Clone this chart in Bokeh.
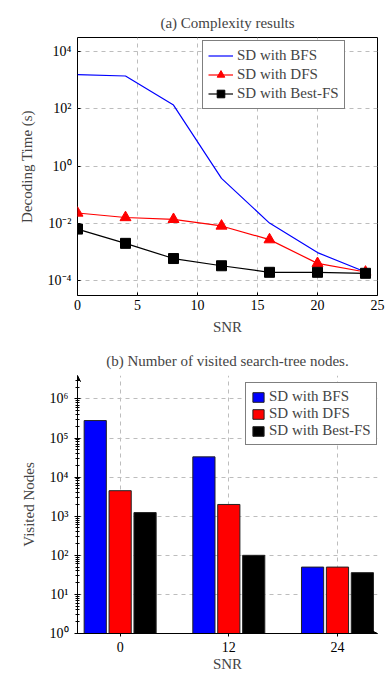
from bokeh.plotting import figure
from bokeh.models import (Range1d, FixedTicker, Legend, LegendItem, Title, Arrow, VeeHead,
                          CustomJSTickFormatter, LogTicker)
from bokeh.layouts import column
from bokeh.embed import file_html
from bokeh.resources import INLINE

# ---------------- data ----------------
snr = [0, 4, 8, 12, 16, 20, 24]
bfs_time = [1550, 1400, 135, 0.37, 0.0102, 9.5e-4, 2.0e-4]
dfs_time = [0.023, 0.016, 0.0138, 0.0081, 0.0027, 4.0e-4, 2.0e-4]
bestfs_time = [0.0063, 0.0020, 5.9e-4, 3.3e-4, 1.95e-4, 1.95e-4, 1.8e-4]

snr_groups = [0, 12, 24]
bfs_nodes = [2.8e5, 3.3e4, 50]
dfs_nodes = [4500, 2000, 50]
bestfs_nodes = [1240, 100, 36]

series_names = ["SD with BFS", "SD with DFS", "SD with Best-FS"]
top_ticks_y = [1e-4, 1e-2, 1, 1e2, 1e4]
top_ticks_x = [0, 5, 10, 15, 20, 25]

FONT = "Liberation Serif"
GRID = "#bdbdbd"
TICK_FS = "14px"
TEXT_FS = "15px"

sup_fmt = CustomJSTickFormatter(code="""
const e = Math.round(Math.log10(tick));
const sup = {'-':'\u207b','0':'\u2070','1':'\u00b9','2':'\u00b2','3':'\u00b3','4':'\u2074',
             '5':'\u2075','6':'\u2076','7':'\u2077','8':'\u2078','9':'\u2079'};
return '10' + String(e).split('').map(c => sup[c]).join('');
""")

# ---------------- top chart ----------------
p1 = figure(width=385, height=340, y_axis_type="log", output_backend="svg",
            toolbar_location=None, x_range=Range1d(0, 25),
            y_range=Range1d(10 ** -4.52, 10 ** 4.49),
            min_border_left=77, min_border_right=8, min_border_top=37, min_border_bottom=45)
p1.title = Title(text="(a) Complexity results", align="center", text_font=FONT,
                 text_font_size=TEXT_FS, text_font_style="normal", standoff=14)
p1.outline_line_color = "black"
p1.outline_line_width = 1
p1.outline_line_alpha = 1

r_bfs = p1.line(snr, bfs_time, line_color="#0000ff", line_width=1.2)
r_dfs = p1.line(snr, dfs_time, line_color="#ff0000", line_width=1.2)
m_dfs = p1.scatter(snr, dfs_time, marker="triangle", size=11, fill_color="#ff0000",
                   line_color="#ff0000")
r_best = p1.line(snr, bestfs_time, line_color="black", line_width=1.2)
m_best = p1.scatter(snr, bestfs_time, marker="square", size=10, fill_color="black",
                    line_color="black")

p1.xaxis.ticker = FixedTicker(ticks=top_ticks_x)
p1.yaxis.ticker = FixedTicker(ticks=top_ticks_y)
p1.yaxis.formatter = sup_fmt
for ax in (p1.xaxis[0], p1.yaxis[0]):
    ax.axis_line_color = None
    ax.major_tick_in = 3
    ax.major_tick_out = 0
    ax.minor_tick_line_color = None
    ax.major_label_text_font = FONT
    ax.major_label_text_font_size = TICK_FS
    ax.major_label_text_color = "black"
    ax.axis_label_text_font = FONT
    ax.axis_label_text_font_size = TEXT_FS
    ax.axis_label_text_font_style = "normal"
p1.xaxis.axis_label = "SNR"
p1.yaxis.axis_label = "Decoding Time (s)"
p1.xaxis.major_label_standoff = 4
p1.yaxis.major_label_standoff = 6
p1.xaxis.axis_label_standoff = 6
p1.yaxis.axis_label_standoff = 10
p1.grid.grid_line_color = GRID
p1.grid.grid_line_dash = "4 4"
p1.grid.grid_line_width = 1

leg1 = Legend(items=[LegendItem(label=series_names[0], renderers=[r_bfs]),
                     LegendItem(label=series_names[1], renderers=[r_dfs, m_dfs]),
                     LegendItem(label=series_names[2], renderers=[r_best, m_best])],
              location=(125, 186), label_text_font=FONT, label_text_font_size=TEXT_FS,
              glyph_width=25, glyph_height=19, label_height=19, label_standoff=4,
              padding=5, spacing=0, margin=0, border_line_color="black",
              border_line_width=1, background_fill_alpha=1)
p1.add_layout(leg1)

# ---------------- bottom chart ----------------
x_lo, x_hi = -4.71, 28.42
y_lo, y_hi = 1, 10 ** 6.6
p2 = figure(width=385, height=337, y_axis_type="log", output_backend="svg",
            toolbar_location=None, x_range=Range1d(x_lo, x_hi), y_range=Range1d(y_lo, y_hi),
            min_border_left=77, min_border_right=2, min_border_top=35, min_border_bottom=44)
p2.title = Title(text="(b) Number of visited search-tree nodes.", align="center",
                 text_font=FONT, text_font_size=TEXT_FS, text_font_style="normal", standoff=14)
p2.outline_line_color = None

bw = 2.45
off = 2.75
b1 = p2.vbar(x=[g - off for g in snr_groups], top=bfs_nodes, bottom=1, width=bw,
             fill_color="#0000ff", line_color="#222222", line_width=1)
b2 = p2.vbar(x=snr_groups, top=dfs_nodes, bottom=1, width=bw,
             fill_color="#ff0000", line_color="#222222", line_width=1)
b3 = p2.vbar(x=[g + off for g in snr_groups], top=bestfs_nodes, bottom=1, width=bw,
             fill_color="black", line_color="#222222", line_width=1)

p2.xaxis.ticker = FixedTicker(ticks=snr_groups)
p2.yaxis.ticker = LogTicker(num_minor_ticks=10)
p2.yaxis.formatter = sup_fmt
for ax in (p2.xaxis[0], p2.yaxis[0]):
    ax.axis_line_color = "black"
    ax.axis_line_width = 1
    ax.major_label_text_font = FONT
    ax.major_label_text_font_size = TICK_FS
    ax.major_label_text_color = "black"
    ax.axis_label_text_font = FONT
    ax.axis_label_text_font_size = TEXT_FS
    ax.axis_label_text_font_style = "normal"
p2.yaxis.major_tick_in = 3
p2.yaxis.major_tick_out = 3
p2.yaxis.minor_tick_in = 2
p2.yaxis.minor_tick_out = 2
p2.xaxis.major_tick_in = 0
p2.xaxis.major_tick_out = 3
p2.xaxis.minor_tick_line_color = None
p2.xaxis.axis_label = "SNR"
p2.yaxis.axis_label = "Visited Nodes"
p2.xaxis.major_label_standoff = 5
p2.yaxis.major_label_standoff = 6
p2.xaxis.axis_label_standoff = 1
p2.yaxis.axis_label_standoff = 10
p2.grid.grid_line_color = GRID
p2.grid.grid_line_dash = "4 4"
p2.grid.grid_line_width = 1

p2.add_layout(Arrow(end=VeeHead(size=6, line_width=1), x_start=x_lo, y_start=y_lo,
                    x_end=x_lo, y_end=y_hi, line_width=1, line_color="black"))
p2.add_layout(Arrow(end=VeeHead(size=6, line_width=1), x_start=x_lo, y_start=y_lo,
                    x_end=x_hi, y_end=y_lo, line_width=1, line_color="black"))

leg2 = Legend(items=[LegendItem(label=series_names[0], renderers=[b1]),
                     LegendItem(label=series_names[1], renderers=[b2]),
                     LegendItem(label=series_names[2], renderers=[b3])],
              location=(168, 188), label_text_font=FONT, label_text_font_size=TEXT_FS,
              glyph_width=14, glyph_height=12, label_height=16, label_standoff=4,
              padding=5, spacing=0, margin=0, border_line_color="black",
              border_line_width=1, background_fill_alpha=1)
p2.add_layout(leg2)

layout = column(p1, p2, spacing=0)
open("out.html", "w").write(file_html(layout, INLINE))
